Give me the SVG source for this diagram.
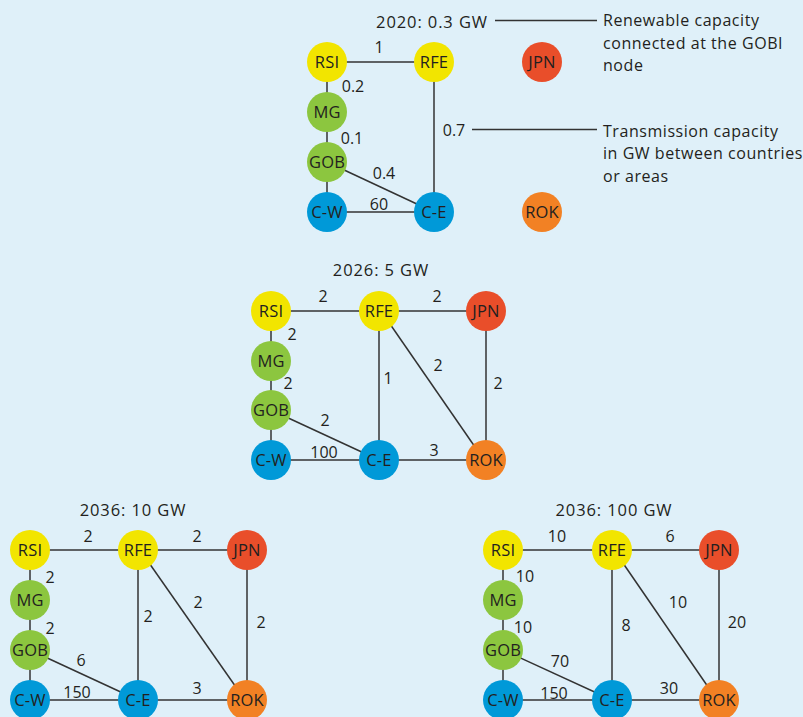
<svg xmlns="http://www.w3.org/2000/svg" width="803" height="717" viewBox="0 0 803 717">
<style>
text{font-family:"Open Sans","Noto Sans","Liberation Sans",sans-serif;fill:#231f20;font-size:16px}
.t{font-size:16.5px;letter-spacing:0.9px;text-anchor:middle}
.n{text-anchor:middle;font-size:16.5px;letter-spacing:0.2px}
.l{text-anchor:middle}
.a{letter-spacing:0.55px}
.e line{stroke:#333;stroke-width:1.5}
.y{fill:#f2e500}.g{fill:#8cc63f}.b{fill:#0099d8}.r{fill:#e94e2a}.o{fill:#f28124}
</style>
<rect width="803" height="717" fill="#dff0f9"/>

<!-- connectors -->
<g id="connectors" class="e">
  <!-- 2020 -->
  <line x1="327" y1="62" x2="434" y2="62"/>
  <line x1="327" y1="62" x2="327" y2="212"/>
  <line x1="327" y1="212" x2="434" y2="212"/>
  <line x1="327" y1="162" x2="434" y2="212"/>
  <line x1="434" y1="62" x2="434" y2="212"/>
  <line x1="495" y1="20.5" x2="597" y2="20.5"/>
  <line x1="472" y1="129.5" x2="597" y2="129.5"/>
  <!-- 2026 -->
  <line x1="271" y1="311" x2="486" y2="311"/>
  <line x1="271" y1="311" x2="271" y2="460"/>
  <line x1="271" y1="460" x2="486" y2="460"/>
  <line x1="271" y1="410" x2="379" y2="460"/>
  <line x1="379" y1="311" x2="379" y2="460"/>
  <line x1="381" y1="311" x2="484" y2="460"/>
  <line x1="486" y1="311" x2="486" y2="460"/>
  <!-- 2036 10 GW -->
  <line x1="30" y1="550" x2="247" y2="550"/>
  <line x1="30" y1="550" x2="30" y2="700"/>
  <line x1="30" y1="700" x2="247" y2="700"/>
  <line x1="30" y1="650" x2="138" y2="700"/>
  <line x1="138" y1="550" x2="138" y2="700"/>
  <line x1="140" y1="550" x2="245" y2="700"/>
  <line x1="247" y1="550" x2="247" y2="700"/>
  <!-- 2036 100 GW -->
  <line x1="503" y1="550" x2="719" y2="550"/>
  <line x1="503" y1="550" x2="503" y2="700"/>
  <line x1="503" y1="700" x2="719" y2="700"/>
  <line x1="503" y1="650" x2="612" y2="700"/>
  <line x1="612" y1="550" x2="612" y2="700"/>
  <line x1="614" y1="550" x2="717" y2="700"/>
  <line x1="719" y1="550" x2="719" y2="700"/>
</g>

<!-- titles and annotations -->
<g id="labels">
  <text class="t" x="432" y="27.5">2020: 0.3 GW</text>
  <text class="t" x="381" y="276">2026: 5 GW</text>
  <text class="t" x="133" y="516">2036: 10 GW</text>
  <text class="t" x="614" y="516">2036: 100 GW</text>
  <text class="a" x="603" y="26">Renewable capacity</text>
  <text class="a" x="603" y="48.5">connected at the GOBI</text>
  <text class="a" x="603" y="71">node</text>
  <text class="a" x="603" y="136.5">Transmission capacity</text>
  <text class="a" x="603" y="159">in GW between countries</text>
  <text class="a" x="603" y="181.5">or areas</text>
</g>

<!-- edge labels -->
<g id="edge-labels">
  <text class="l" x="379" y="53">1</text>
  <text class="l" x="353" y="92">0.2</text>
  <text class="l" x="352" y="144">0.1</text>
  <text class="l" x="384" y="179">0.4</text>
  <text class="l" x="379" y="210">60</text>
  <text class="l" x="454" y="136">0.7</text>

  <text class="l" x="323" y="302">2</text>
  <text class="l" x="437" y="302">2</text>
  <text class="l" x="292" y="340">2</text>
  <text class="l" x="288" y="389">2</text>
  <text class="l" x="325" y="426">2</text>
  <text class="l" x="324" y="458">100</text>
  <text class="l" x="388" y="384">1</text>
  <text class="l" x="438" y="371">2</text>
  <text class="l" x="498" y="389">2</text>
  <text class="l" x="434" y="456">3</text>

  <text class="l" x="88" y="542">2</text>
  <text class="l" x="197" y="542">2</text>
  <text class="l" x="50" y="583">2</text>
  <text class="l" x="50" y="634">2</text>
  <text class="l" x="81" y="666">6</text>
  <text class="l" x="77" y="698">150</text>
  <text class="l" x="148" y="622">2</text>
  <text class="l" x="198" y="608">2</text>
  <text class="l" x="261" y="628">2</text>
  <text class="l" x="197" y="694">3</text>

  <text class="l" x="557" y="542">10</text>
  <text class="l" x="670" y="542">6</text>
  <text class="l" x="525" y="582">10</text>
  <text class="l" x="523" y="633">10</text>
  <text class="l" x="560" y="667">70</text>
  <text class="l" x="554" y="699">150</text>
  <text class="l" x="626" y="631">8</text>
  <text class="l" x="678" y="608">10</text>
  <text class="l" x="737" y="628">20</text>
  <text class="l" x="669" y="694">30</text>
</g>

<!-- nodes 2020 -->
<g id="p1-RSI"><circle class="y" cx="327" cy="62" r="20"/><text class="n" x="327" y="67.5">RSI</text></g>
<g id="p1-RFE"><circle class="y" cx="434" cy="62" r="20"/><text class="n" x="434" y="67.5">RFE</text></g>
<g id="p1-JPN"><circle class="r" cx="542" cy="62" r="20"/><text class="n" x="542" y="67.5">JPN</text></g>
<g id="p1-MG"><circle class="g" cx="327" cy="112" r="20"/><text class="n" x="327" y="117.5">MG</text></g>
<g id="p1-GOB"><circle class="g" cx="327" cy="162" r="20"/><text class="n" x="327" y="167.5">GOB</text></g>
<g id="p1-CW"><circle class="b" cx="327" cy="212" r="20"/><text class="n" x="327" y="217.5">C-W</text></g>
<g id="p1-CE"><circle class="b" cx="434" cy="212" r="20"/><text class="n" x="434" y="217.5">C-E</text></g>
<g id="p1-ROK"><circle class="o" cx="542" cy="212" r="20"/><text class="n" x="542" y="217.5">ROK</text></g>

<!-- nodes 2026 -->
<g id="p2-RSI"><circle class="y" cx="271" cy="311" r="20"/><text class="n" x="271" y="316.5">RSI</text></g>
<g id="p2-RFE"><circle class="y" cx="379" cy="311" r="20"/><text class="n" x="379" y="316.5">RFE</text></g>
<g id="p2-JPN"><circle class="r" cx="486" cy="311" r="20"/><text class="n" x="486" y="316.5">JPN</text></g>
<g id="p2-MG"><circle class="g" cx="271" cy="361" r="20"/><text class="n" x="271" y="366.5">MG</text></g>
<g id="p2-GOB"><circle class="g" cx="271" cy="410" r="20"/><text class="n" x="271" y="415.5">GOB</text></g>
<g id="p2-CW"><circle class="b" cx="271" cy="460" r="20"/><text class="n" x="271" y="465.5">C-W</text></g>
<g id="p2-CE"><circle class="b" cx="379" cy="460" r="20"/><text class="n" x="379" y="465.5">C-E</text></g>
<g id="p2-ROK"><circle class="o" cx="486" cy="460" r="20"/><text class="n" x="486" y="465.5">ROK</text></g>

<!-- nodes 2036 10 GW -->
<g id="p3-RSI"><circle class="y" cx="30" cy="550" r="20"/><text class="n" x="30" y="555.5">RSI</text></g>
<g id="p3-RFE"><circle class="y" cx="138" cy="550" r="20"/><text class="n" x="138" y="555.5">RFE</text></g>
<g id="p3-JPN"><circle class="r" cx="247" cy="550" r="20"/><text class="n" x="247" y="555.5">JPN</text></g>
<g id="p3-MG"><circle class="g" cx="30" cy="600" r="20"/><text class="n" x="30" y="605.5">MG</text></g>
<g id="p3-GOB"><circle class="g" cx="30" cy="650" r="20"/><text class="n" x="30" y="655.5">GOB</text></g>
<g id="p3-CW"><circle class="b" cx="30" cy="700" r="20"/><text class="n" x="30" y="705.5">C-W</text></g>
<g id="p3-CE"><circle class="b" cx="138" cy="700" r="20"/><text class="n" x="138" y="705.5">C-E</text></g>
<g id="p3-ROK"><circle class="o" cx="247" cy="700" r="20"/><text class="n" x="247" y="705.5">ROK</text></g>

<!-- nodes 2036 100 GW -->
<g id="p4-RSI"><circle class="y" cx="503" cy="550" r="20"/><text class="n" x="503" y="555.5">RSI</text></g>
<g id="p4-RFE"><circle class="y" cx="612" cy="550" r="20"/><text class="n" x="612" y="555.5">RFE</text></g>
<g id="p4-JPN"><circle class="r" cx="719" cy="550" r="20"/><text class="n" x="719" y="555.5">JPN</text></g>
<g id="p4-MG"><circle class="g" cx="503" cy="600" r="20"/><text class="n" x="503" y="605.5">MG</text></g>
<g id="p4-GOB"><circle class="g" cx="503" cy="650" r="20"/><text class="n" x="503" y="655.5">GOB</text></g>
<g id="p4-CW"><circle class="b" cx="503" cy="700" r="20"/><text class="n" x="503" y="705.5">C-W</text></g>
<g id="p4-CE"><circle class="b" cx="612" cy="700" r="20"/><text class="n" x="612" y="705.5">C-E</text></g>
<g id="p4-ROK"><circle class="o" cx="719" cy="700" r="20"/><text class="n" x="719" y="705.5">ROK</text></g>
</svg>
